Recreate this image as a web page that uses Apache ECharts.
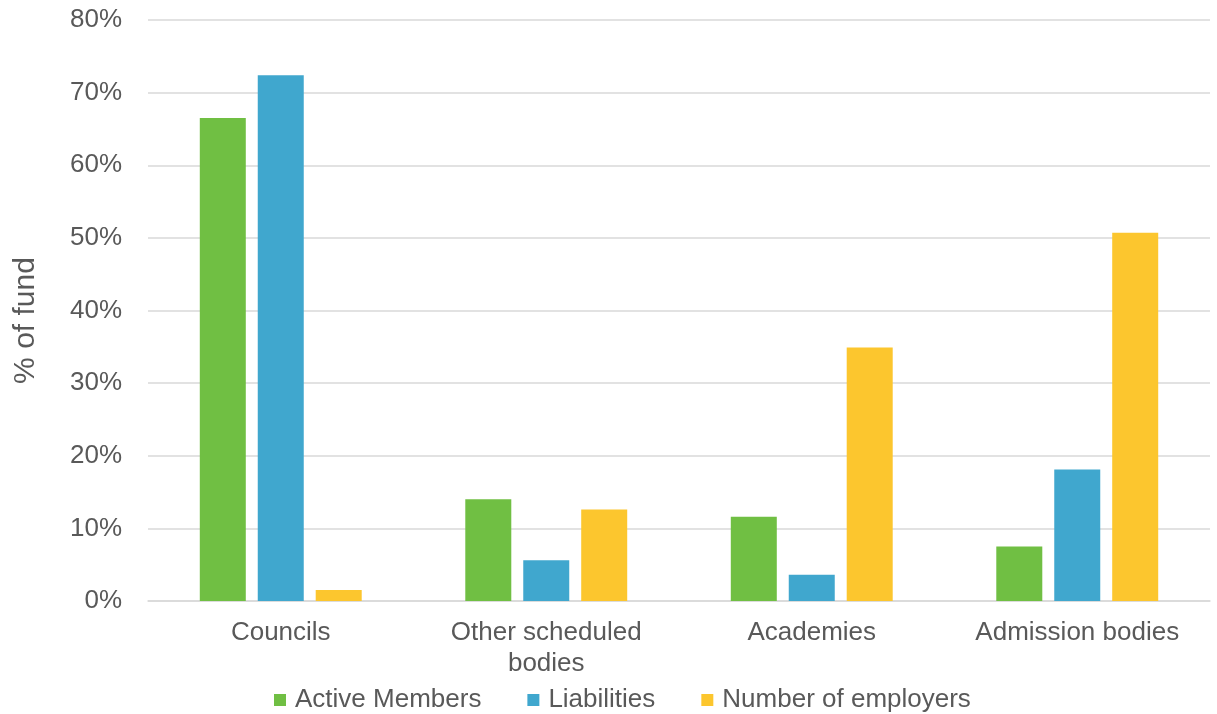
<!DOCTYPE html>
<html><head><meta charset="utf-8">
<script src="https://cdn.jsdelivr.net/npm/echarts@6/dist/echarts.min.js"></script>
<style>html,body{margin:0;padding:0;background:#fff}#c{width:1217px;height:714px}</style>
</head><body><div id="c"></div>
<script>
const categories = ['Councils', 'Other scheduled\nbodies', 'Academies', 'Admission bodies'];
const activeMembers = [66.5, 14.0, 11.6, 7.5];
const liabilities = [72.4, 5.6, 3.6, 18.1];
const numberOfEmployers = [1.5, 12.6, 34.9, 50.7];
const seriesNames = ['Active Members', 'Liabilities', 'Number of employers'];
const colors = ['#70BF43', '#40A7CE', '#FCC62E'];

const chart = echarts.init(document.getElementById('c'));
const font = 'Liberation Sans, Arial, sans-serif';
const mk = (name, data, color) => ({
  name, type: 'bar', data, barWidth: 46, barGap: '26%',
  itemStyle: { color }
});
chart.setOption({
  animation: false,
  color: colors,
  grid: { left: 148, right: 7, top: 20, bottom: 113, containLabel: false, outerBoundsMode: 'none' },
  legend: {
    top: 682, left: 269, itemWidth: 12, itemHeight: 12, itemGap: 46,
    icon: 'rect',
    textStyle: { fontFamily: font, fontSize: 26, color: '#595959', padding: [0, 0, 0, 4] },
    data: seriesNames
  },
  xAxis: {
    type: 'category', data: categories,
    axisLine: { lineStyle: { color: '#d9d9d9', width: 1.5 } },
    axisTick: { show: false },
    axisLabel: { fontFamily: font, fontSize: 26, color: '#595959', margin: 16, lineHeight: 31, interval: 0 }
  },
  yAxis: {
    type: 'value', min: 0, max: 80, interval: 10,
    name: '% of fund', nameLocation: 'middle', nameGap: 107, nameRotate: 90,
    nameTextStyle: { fontFamily: font, fontSize: 30, color: '#595959', padding: [0, 20, 0, 0] },
    axisLabel: { formatter: '{value}%', fontFamily: font, fontSize: 26, color: '#595959', margin: 26 },
    axisLine: { show: false }, axisTick: { show: false },
    splitLine: { lineStyle: { color: '#d9d9d9', width: 1.5 } }
  },
  series: [
    mk(seriesNames[0], activeMembers, colors[0]),
    mk(seriesNames[1], liabilities, colors[1]),
    mk(seriesNames[2], numberOfEmployers, colors[2])
  ]
});
</script></body></html>
